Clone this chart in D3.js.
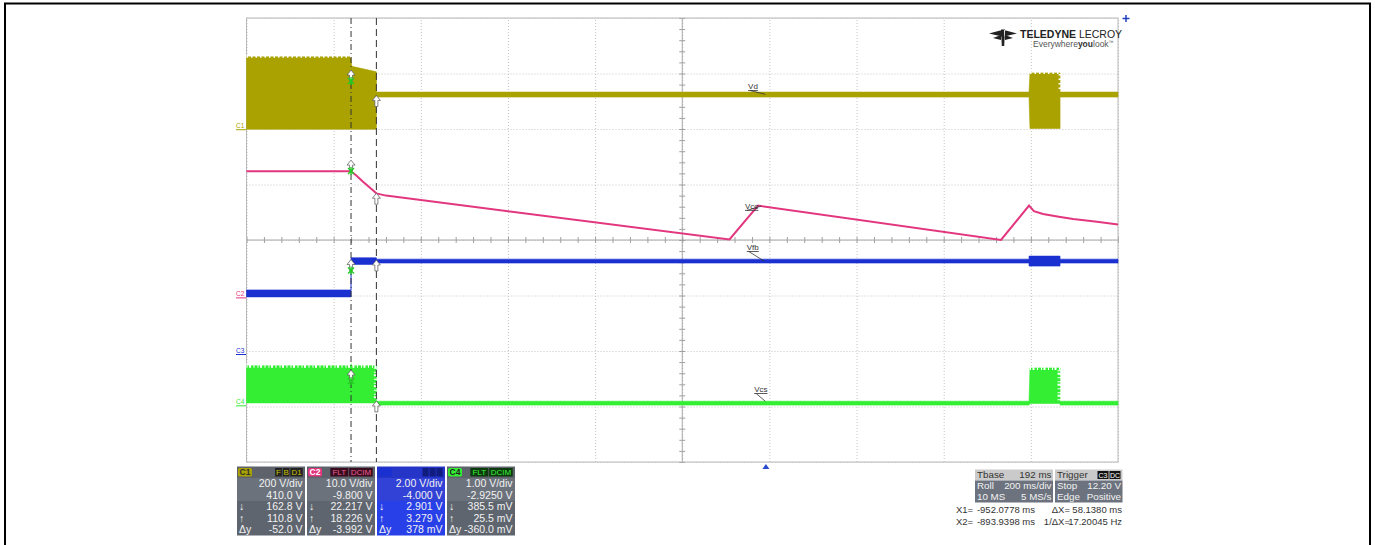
<!DOCTYPE html>
<html><head><meta charset="utf-8">
<script src="https://cdn.jsdelivr.net/npm/d3@7"></script>
<style>
body{margin:0;background:#fff;}
svg{display:block;}
text{font-family:"Liberation Sans",Arial,sans-serif;}
</style>
</head><body>
<svg id="c" width="1375" height="545"></svg>
<script>
// ---------------- DATA ----------------
// time base in ms (200 ms/div, 10 divisions)
const timeDomain = [-1192, 808];
const cursorTimes = [-952.0778, -893.9398];
const triggerTime = 0;

// channels
const channels = ["C1", "C2", "C3", "C4"];
const traceNames = ["Vd", "Vcc", "Vfb", "Vcs"];
const voltsPerDiv = [200, 10, 2, 1];
const offsets = [410, -9.8, -4, -2.925];

// C1 (Vd) envelope, volts
const vdTime = [-1192, -952.1, -950.5, -893.9, -893.9, 603.8, 606, 675, 675, 808];
const vdMin  = [-11, -11, -11, -11, 105, 105, -8, -8, 105, 105];
const vdMax  = [250, 250, 216, 196, 123, 123, 192, 192, 123, 123];

// C2 (Vcc) line, volts
const vccTime = [-1192, -952.1, -938, -924.6, -908.6, -893.9, -872, -83.6, -18, 539.5, 603.8, 615, 636, 672, 705, 760, 808];
const vccVolt = [22.2, 22.2, 21.3, 20.3, 19.2, 18.2, 17.8, 9.9, 16.0, 9.8, 16.0, 15.0, 14.5, 14.0, 13.6, 13.1, 12.6];

// C3 (Vfb) envelope, volts
const vfbTime = [-1192, -952.1, -952.1, -893.9, -893.9, 603.8, 603.8, 675, 675, 808];
const vfbMin  = [1.95, 1.95, 3.12, 3.12, 3.17, 3.17, 3.06, 3.06, 3.17, 3.17];
const vfbMax  = [2.20, 2.20, 3.36, 3.36, 3.31, 3.31, 3.42, 3.42, 3.31, 3.31];

// C4 (Vcs) envelope, volts
const vcsTime = [-1192, -953.5, -952.1, -950.5, -893.9, -893.9, 603.8, 606, 675, 675, 808];
const vcsMin  = [-0.01, -0.01, -0.01, -0.01, -0.01, -0.05, -0.05, -0.02, -0.02, -0.05, -0.05];
const vcsMax  = [0.66, 0.66, 0.73, 0.66, 0.66, 0.02, 0.02, 0.62, 0.62, 0.02, 0.02];

// burst (switching) intervals, ms
const vdBursts = [[-1192, -952.1], [606, 675]];
const vcsBursts = [[-1192, -893.9], [606, 675]];

// trace label anchors: [text time, text volts, leader-end time, leader-end volts]
const labelAnchors = [[-41, 134, -1.5, 115], [-48, 15.4, -11, 15.9], [-44, 3.64, -4, 3.24], [-27, 0.186, -1.5, 0.02]];

// cursor readouts per channel
const chanVdiv = ["200 V/div", "10.0 V/div", "2.00 V/div", "1.00 V/div"];
const chanOffset = ["410.0 V", "-9.800 V", "-4.000 V", "-2.9250 V"];
const cursorX1Vals = ["162.8 V", "22.217 V", "2.901 V", "385.5 mV"];
const cursorX2Vals = ["110.8 V", "18.226 V", "3.279 V", "25.5 mV"];
const cursorDy = ["-52.0 V", "-3.992 V", "378 mV", "-360.0 mV"];
const chanTags = [["F", "B", "D1"], ["FLT", "DCIM"], ["", "", ""], ["FLT", "DCIM"]];
const cursorVolts1 = [162.8, 22.217, 2.901, 0.3855];
const cursorVolts2 = [110.8, 18.226, 3.279, 0.0255];

// timebase / trigger
const tbaseRows = [["Tbase", "192 ms"], ["Roll", "200 ms/div"], ["10 MS", "5 MS/s"]];
const trigRows = [["Trigger", ""], ["Stop", "12.20 V"], ["Edge", "Positive"]];
const trigTags = ["C3", "DC"];
const readout = [["X1=", "-952.0778 ms", "\u0394X=", "58.1380 ms"], ["X2=", "-893.9398 ms", "1/\u0394X=", "17.20045 Hz"]];

// ---------------- DRAW ----------------
const colors = ["#aaa200", "#e2367f", "#1a30d0", "#33ee33"];
const svg = d3.select("#c");
const P = {x0: 246.5, x1: 1118, y0: 18, y1: 462};
const x = d3.scaleLinear().domain(timeDomain).range([P.x0, P.x1]);
const ys = channels.map((c, i) => d3.scaleLinear()
  .domain([-4 * voltsPerDiv[i] - offsets[i], 4 * voltsPerDiv[i] - offsets[i]])
  .range([P.y1, P.y0]));
const divScale = d3.scaleLinear().domain([-4, 4]).range([P.y1, P.y0]);

// outer frame
svg.append("rect").attr("x", 5).attr("y", 3.5).attr("width", 1365).attr("height", 560)
  .attr("fill", "none").attr("stroke", "#000").attr("stroke-width", 2);

// grid
const gridT = d3.range(0, 11).map(i => timeDomain[0] + i * 200);
const gv = svg.append("g").attr("transform", `translate(0,${P.y1})`)
  .call(d3.axisBottom(x).tickValues(gridT).tickSize(-(P.y1 - P.y0)).tickFormat(""));
gv.select(".domain").remove();
gv.selectAll("line").attr("stroke", "#c4c4c4").attr("stroke-dasharray", "1,2");
const gh = svg.append("g").attr("transform", `translate(${P.x0},0)`)
  .call(d3.axisLeft(divScale).tickValues(d3.range(-4, 5)).tickSize(-(P.x1 - P.x0)).tickFormat(""));
gh.select(".domain").remove();
gh.selectAll("line").attr("stroke", "#c4c4c4").attr("stroke-dasharray", "1,2");

// center axes with minor ticks
const cy = divScale(0), cx = x((timeDomain[0] + timeDomain[1]) / 2);
svg.append("line").attr("x1", P.x0).attr("x2", P.x1).attr("y1", cy).attr("y2", cy).attr("stroke", "#a8a8a8");
svg.append("line").attr("x1", cx).attr("x2", cx).attr("y1", P.y0).attr("y2", P.y1).attr("stroke", "#a8a8a8");
const minorT = d3.range(0, 51).map(i => timeDomain[0] + i * 40);
const mt = svg.append("g").attr("transform", `translate(0,${cy + 3})`)
  .call(d3.axisTop(x).tickValues(minorT).tickSize(6).tickFormat(""));
mt.select(".domain").remove(); mt.selectAll("line").attr("stroke", "#a0a0a0");
const minorV = d3.range(0, 41).map(i => -4 + i * 0.2);
const mv = svg.append("g").attr("transform", `translate(${cx - 3},0)`)
  .call(d3.axisRight(divScale).tickValues(minorV).tickSize(6).tickFormat(""));
mv.select(".domain").remove(); mv.selectAll("line").attr("stroke", "#a0a0a0");

// plot border
svg.append("rect").attr("x", P.x0).attr("y", P.y0).attr("width", P.x1 - P.x0).attr("height", P.y1 - P.y0)
  .attr("fill", "none").attr("stroke", "#b8b8b8");

// logo
const lg = svg.append("g");
lg.append("path").attr("fill", "#222")
  .attr("d", "M989,33.5 L1002,30 L1002,36.5 Z M1017,33.5 L1004,30 L1004,36.5 Z M1001,29.5 L1005,29.5 L1004.2,46 L1001.8,46 Z M993,38 L1001,35 L1001,40 Z M1013,38 L1005,35 L1005,40 Z");
lg.append("text").attr("x", 1020).attr("y", 37.5).attr("font-size", 10.5).attr("fill", "#222")
  .html('<tspan font-weight="bold">TELEDYNE</tspan> LECROY');
lg.append("text").attr("x", 1033).attr("y", 47).attr("font-size", 8.5).attr("fill", "#555")
  .html('Everywhere<tspan font-weight="bold" fill="#333">you</tspan>look<tspan font-size="5" dy="-3">\u2122</tspan>');
// top-right marker
svg.append("path").attr("d", `M1126,15 L1126,22 M1122.5,18.5 L1129.5,18.5`).attr("stroke", "#2040c0").attr("stroke-width", 1.5);

// channel ground labels
channels.forEach((c, i) => {
  const gy = ys[i](0);
  svg.append("text").attr("x", 236).attr("y", gy + 2).attr("font-size", 6.5).attr("fill", colors[i]).text(c);
  svg.append("line").attr("x1", 236).attr("x2", 246).attr("y1", gy + 3.5).attr("y2", gy + 3.5)
    .attr("stroke", colors[i]).attr("stroke-width", 1);
});

// envelopes
function env(tArr, mn, mx) { return tArr.map((t, k) => ({t, min: mn[k], max: mx[k]})); }
function drawEnv(data, yS, col) {
  svg.append("path").datum(data).attr("fill", col).attr("stroke", col).attr("stroke-width", 0.6)
    .attr("d", d3.area().x(d => x(d.t)).y0(d => yS(d.min)).y1(d => yS(d.max)));
}
const vdData = env(vdTime, vdMin, vdMax);
const vfbData = env(vfbTime, vfbMin, vfbMax);
const vcsData = env(vcsTime, vcsMin, vcsMax);
drawEnv(vdData, ys[0], colors[0]);
drawEnv(vfbData, ys[2], colors[2]);
drawEnv(vcsData, ys[3], colors[3]);
// switching ripple texture on burst tops
function ripple(bursts, data, yS, dash, w) {
  bursts.forEach(b => {
    const seg = data.filter(d => d.t >= b[0] && d.t <= b[1]);
    svg.append("path").datum(seg).attr("fill", "none").attr("stroke", "#fff").attr("stroke-width", w)
      .attr("stroke-dasharray", dash)
      .attr("d", d3.line().x(d => x(d.t)).y(d => yS(d.max) - 0.5));
  });
}
ripple(vdBursts, vdData, ys[0], "1.5,3", 3);
ripple(vcsBursts, vcsData, ys[3], "1,1.5,2,2.5,1,3", 5);

// Vcc line
svg.append("path").datum(vccTime.map((t, k) => ({t, v: vccVolt[k]})))
  .attr("fill", "none").attr("stroke", colors[1]).attr("stroke-width", 2)
  .attr("d", d3.line().x(d => x(d.t)).y(d => ys[1](d.v)));

// trace labels
traceNames.forEach((n, i) => {
  const a = labelAnchors[i];
  const lx = x(a[0]), ly = ys[i](a[1]);
  svg.append("text").attr("x", lx).attr("y", ly).attr("font-size", 8).attr("fill", "#333")
    .attr("text-decoration", "underline").text(n);
  svg.append("line").attr("x1", lx + 2).attr("y1", ly + 1.5).attr("x2", x(a[2])).attr("y2", ys[i](a[3]))
    .attr("stroke", "#333").attr("stroke-width", 0.8);
});

// cursors
cursorTimes.forEach((t, k) => {
  svg.append("line").attr("x1", x(t)).attr("x2", x(t)).attr("y1", P.y0).attr("y2", P.y1)
    .attr("stroke", "#333").attr("stroke-width", 1)
    .attr("stroke-dasharray", k === 0 ? "6,3,1,3" : "7,4");
});
const arrowUp = "M0,0 L4,5 L1.5,5 L1.5,11 L-1.5,11 L-1.5,5 L-4,5 Z";
channels.forEach((c, i) => {
  const y1 = ys[i](cursorVolts1[i]), y2 = ys[i](cursorVolts2[i]);
  svg.append("path").attr("d", arrowUp).attr("transform", `translate(${x(cursorTimes[0])},${y1 - 11})`)
    .attr("fill", "#fff").attr("stroke", "#666").attr("stroke-width", 0.8);
  svg.append("path").attr("d", "M-3,-3L3,3M3,-3L-3,3M0,-4L0,4")
    .attr("transform", `translate(${x(cursorTimes[0])},${y1})`)
    .attr("stroke", "#22cc22").attr("stroke-width", 1.4);
  svg.append("path").attr("d", arrowUp).attr("transform", `translate(${x(cursorTimes[1])},${y2})`)
    .attr("fill", "#fff").attr("stroke", "#666").attr("stroke-width", 0.8);
});

// trigger marker
const trX = x(triggerTime);
svg.append("path").attr("d", `M${trX - 3.5},469 L${trX + 3.5},469 L${trX},464 Z`).attr("fill", "#2a4bd0");

// channel boxes
const boxLeft = [237, 307, 377, 447], boxW = 68, boxTop = 466.5, rowH = 11.5;
const badgeText = ["#333", "#fff", "#1a30d0", "#222"];
const tagBg = ["#222", "#3a0d1e", "#101c80", "#0c3a0c"];
const tagFg = ["#c9c000", "#f05a98", "#2030c0", "#3cf03c"];
channels.forEach((c, i) => {
  const bx = boxLeft[i];
  const g = svg.append("g");
  const blue = i === 2;
  g.append("rect").attr("x", bx).attr("y", boxTop).attr("width", boxW).attr("height", rowH)
    .attr("fill", blue ? "#2535c8" : "#5d626b");
  g.append("rect").attr("x", bx).attr("y", boxTop + rowH).attr("width", boxW).attr("height", rowH * 2)
    .attr("fill", blue ? "#3242d6" : "#6c727c");
  g.append("rect").attr("x", bx).attr("y", boxTop + rowH * 3).attr("width", boxW).attr("height", rowH * 3)
    .attr("fill", blue ? "#2840e8" : "#5f656e");
  g.append("rect").attr("x", bx + 1).attr("y", boxTop + 1.5).attr("width", 14).attr("height", rowH - 3)
    .attr("fill", colors[i]).attr("rx", 1.5);
  g.append("text").attr("x", bx + 2.5).attr("y", boxTop + 8.8).attr("font-size", 8.5).attr("font-weight", "bold")
    .attr("fill", badgeText[i]).text(c);
  const tags = chanTags[i];
  let tx = bx + boxW - 1.5;
  tags.slice().reverse().forEach(tg => {
    const w = tg.length ? Math.max(7, tg.length * 5.6 + 2) : 7;
    tx -= w;
    g.append("rect").attr("x", tx).attr("y", boxTop + 1.5).attr("width", w - 0.8).attr("height", rowH - 3).attr("fill", tagBg[i]);
    g.append("text").attr("x", tx + (w - 0.8) / 2).attr("y", boxTop + 8.6).attr("text-anchor", "middle")
      .attr("font-size", 8).attr("fill", tagFg[i]).text(tg);
  });
  const vals = [chanVdiv[i], chanOffset[i], cursorX1Vals[i], cursorX2Vals[i], cursorDy[i]];
  const syms = ["", "", "\u2193", "\u2191", "\u0394y"];
  vals.forEach((v, r) => {
    const by = boxTop + rowH * (r + 1) + 9;
    g.append("text").attr("x", bx + boxW - 2.5).attr("y", by).attr("text-anchor", "end")
      .attr("font-size", 10.5).attr("fill", "#f2f2f2").text(v);
    if (syms[r]) g.append("text").attr("x", bx + 2).attr("y", by).attr("font-size", 10.5).attr("fill", "#f2f2f2").text(syms[r]);
  });
});

// timebase & trigger boxes
function infoBox(bx, w, rows, tags) {
  const top = 469.5, rh = 11;
  const g = svg.append("g");
  g.append("rect").attr("x", bx).attr("y", top).attr("width", w).attr("height", rh).attr("fill", "#cacaca");
  g.append("rect").attr("x", bx).attr("y", top + rh).attr("width", w).attr("height", rh * 2).attr("fill", "#6c727e");
  rows.forEach((r, k) => {
    const by = top + rh * k + 8.8;
    const col = k === 0 ? "#333" : "#f2f2f2";
    g.append("text").attr("x", bx + 2).attr("y", by).attr("font-size", 9.8).attr("fill", col).text(r[0]);
    g.append("text").attr("x", bx + w - 1.5).attr("y", by).attr("text-anchor", "end").attr("font-size", 9.8).attr("fill", col).text(r[1]);
  });
  if (tags) {
    let tx = bx + w - 1;
    tags.slice().reverse().forEach(tg => {
      const tw = 12;
      tx -= tw;
      g.append("rect").attr("x", tx).attr("y", top + 1.5).attr("width", tw - 1).attr("height", rh - 3).attr("fill", "#111");
      g.append("text").attr("x", tx + (tw - 1) / 2).attr("y", top + 8.2).attr("text-anchor", "middle")
        .attr("font-size", 7).attr("fill", "#fff").text(tg);
    });
  }
}
infoBox(975, 78, tbaseRows, null);
infoBox(1055, 67.5, trigRows, trigTags);

// cursor readout
readout.forEach((r, k) => {
  const by = 512.5 + k * 12;
  const fs = 9.5;
  svg.append("text").attr("x", 956).attr("y", by).attr("font-size", fs).attr("fill", "#333").text(r[0]);
  svg.append("text").attr("x", 1035).attr("y", by).attr("text-anchor", "end").attr("font-size", fs).attr("fill", "#333").text(r[1]);
  svg.append("text").attr("x", 1070).attr("y", by).attr("text-anchor", "end").attr("font-size", fs).attr("fill", "#333").text(r[2]);
  svg.append("text").attr("x", 1122).attr("y", by).attr("text-anchor", "end").attr("font-size", fs).attr("fill", "#333").text(r[3]);
});
</script>
</body></html>
